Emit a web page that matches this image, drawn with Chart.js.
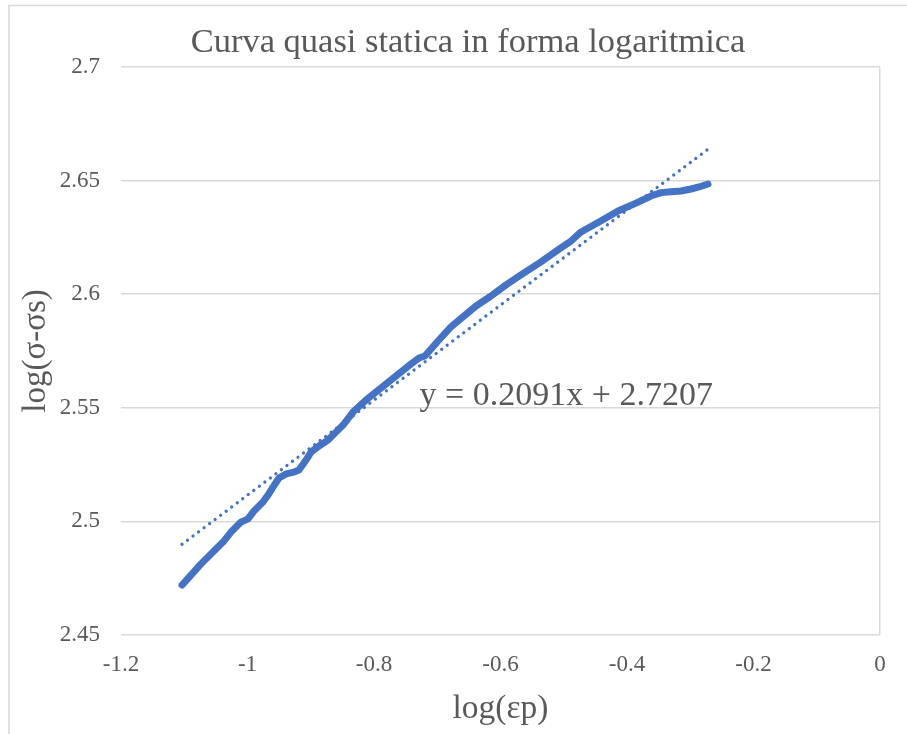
<!DOCTYPE html>
<html>
<head>
<meta charset="utf-8">
<title>Curva quasi statica in forma logaritmica</title>
<script src="https://cdn.jsdelivr.net/npm/chart.js@4/dist/chart.umd.min.js"></script>
<style>
    body { margin: 0; background: #fff; }
    canvas { display: block; }
</style>
</head>
<body>
<canvas id="curveChart" width="907" height="734"></canvas>
<script>
// Curve data: log(εp) and log(σ-σs)
const logEp = [
    -1.1036, -1.0862, -1.0735, -1.0530, -1.0387, -1.0261, -1.0103, -0.9992, -0.9897, -0.9755,
    -0.9676, -0.9597, -0.9502, -0.9391, -0.9265, -0.9186, -0.9075, -0.8996, -0.8870, -0.8727,
    -0.8601, -0.8474, -0.8316, -0.8126, -0.7889, -0.7652, -0.7415, -0.7289, -0.7194, -0.6988,
    -0.6783, -0.6577, -0.6387, -0.6150, -0.5913, -0.5676, -0.5360, -0.5091, -0.4885, -0.4727,
    -0.4443, -0.4142, -0.3858, -0.3621, -0.3462, -0.3352, -0.3146, -0.2988, -0.2862, -0.2719
];
const logSigma = [
    2.4720, 2.4773, 2.4813, 2.4870, 2.4909, 2.4953, 2.4997, 2.5011, 2.5046, 2.5085,
    2.5116, 2.5151, 2.5191, 2.5209, 2.5217, 2.5226, 2.5270, 2.5305, 2.5332, 2.5358,
    2.5393, 2.5429, 2.5486, 2.5534, 2.5587, 2.5640, 2.5693, 2.5719, 2.5728, 2.5794,
    2.5856, 2.5904, 2.5948, 2.5992, 2.6041, 2.6085, 2.6142, 2.6195, 2.6234, 2.6274,
    2.6318, 2.6366, 2.6401, 2.6432, 2.6447, 2.6450, 2.6454, 2.6463, 2.6472, 2.6485
];

// Linear trendline end points (dotted)
const trendX = [-1.1036, -0.2719];
const trendY = [2.4899, 2.6638];
const trendLabel = 'y = 0.2091x + 2.7207';
const labelPos = { x: -0.728, y: 2.5513 };

// Axis ticks
const xTicks = [-1.2, -1, -0.8, -0.6, -0.4, -0.2, 0];
const yTicks = [2.45, 2.5, 2.55, 2.6, 2.65, 2.7];

const chartTitle = 'Curva quasi statica in forma logaritmica';
const xTitle = 'log(εp)';
const yTitle = 'log(σ-σs)';

const blue = '#4472C4';
const textGrey = '#595959';
const gridGrey = '#d9d9d9';
const serif = "'Liberation Serif', 'Times New Roman', serif";

const curvePoints = logEp.map((x, i) => ({ x: x, y: logSigma[i] }));
const trendPoints = trendX.map((x, i) => ({ x: x, y: trendY[i] }));

const fmt = v => parseFloat(Number(v).toFixed(2)).toString();

// draws the outer frame, the chart title and the trendline equation
const extras = {
    id: 'extras',
    beforeDraw(chart) {
        const c = chart.ctx;
        c.save();
        c.strokeStyle = gridGrey;
        c.lineWidth = 1.5;
        c.beginPath();
        c.moveTo(9, 734);
        c.lineTo(9, 5.5);
        c.lineTo(907, 5.5);
        c.stroke();
        c.restore();
    },
    afterDraw(chart) {
        const c = chart.ctx;
        c.save();
        c.fillStyle = textGrey;
        c.font = '34.5px ' + serif;
        c.textAlign = 'center';
        c.textBaseline = 'alphabetic';
        c.fillText(chartTitle, 468, 52);
        const px = chart.scales.x.getPixelForValue(labelPos.x);
        const py = chart.scales.y.getPixelForValue(labelPos.y);
        c.font = '34px ' + serif;
        c.textAlign = 'left';
        c.fillText(trendLabel, px, py);
        c.restore();
    }
};

const ctx = document.getElementById('curveChart').getContext('2d');
const curveChart = new Chart(ctx, {
    type: 'scatter',
    data: {
        datasets: [
            {
                label: 'curva',
                data: curvePoints,
                showLine: true,
                borderColor: blue,
                backgroundColor: blue,
                borderWidth: 7,
                borderCapStyle: 'round',
                borderJoinStyle: 'round',
                pointRadius: 0,
                tension: 0
            },
            {
                label: 'trend',
                data: trendPoints,
                showLine: true,
                borderColor: blue,
                borderWidth: 3.3,
                borderDash: [0.01, 6.9],
                borderCapStyle: 'round',
                pointRadius: 0
            }
        ]
    },
    options: {
        responsive: false,
        animation: false,
        devicePixelRatio: 1,
        layout: { padding: { top: 67, right: 27, bottom: 5, left: 17 } },
        plugins: {
            legend: { display: false },
            tooltip: { enabled: false }
        },
        scales: {
            x: {
                type: 'linear',
                min: xTicks[0],
                max: xTicks[xTicks.length - 1],
                afterBuildTicks: scale => { scale.ticks = xTicks.map(v => ({ value: v })); },
                afterFit: scale => { scale.height = 94; },
                ticks: {
                    callback: fmt,
                    color: textGrey,
                    font: { family: serif, size: 23 },
                    padding: 16,
                    maxRotation: 0
                },
                grid: {
                    drawTicks: false,
                    color: c => (c.tick && c.tick.value === 0 ? gridGrey : 'rgba(0,0,0,0)'),
                    lineWidth: 1.5
                },
                border: { display: false },
                title: {
                    display: true,
                    text: xTitle,
                    color: textGrey,
                    font: { family: serif, size: 33.5 },
                    padding: 0
                }
            },
            y: {
                type: 'linear',
                min: yTicks[0],
                max: yTicks[yTicks.length - 1],
                afterBuildTicks: scale => { scale.ticks = yTicks.map(v => ({ value: v })); },
                afterFit: scale => { scale.width = 104; },
                ticks: {
                    callback: fmt,
                    color: textGrey,
                    font: { family: serif, size: 23 },
                    padding: 21
                },
                grid: {
                    drawTicks: false,
                    color: gridGrey,
                    lineWidth: 1.5
                },
                border: { display: false },
                title: {
                    display: true,
                    text: yTitle,
                    color: textGrey,
                    font: { family: serif, size: 33 },
                    padding: 0
                }
            }
        }
    },
    plugins: [extras]
});
</script>
</body>
</html>
